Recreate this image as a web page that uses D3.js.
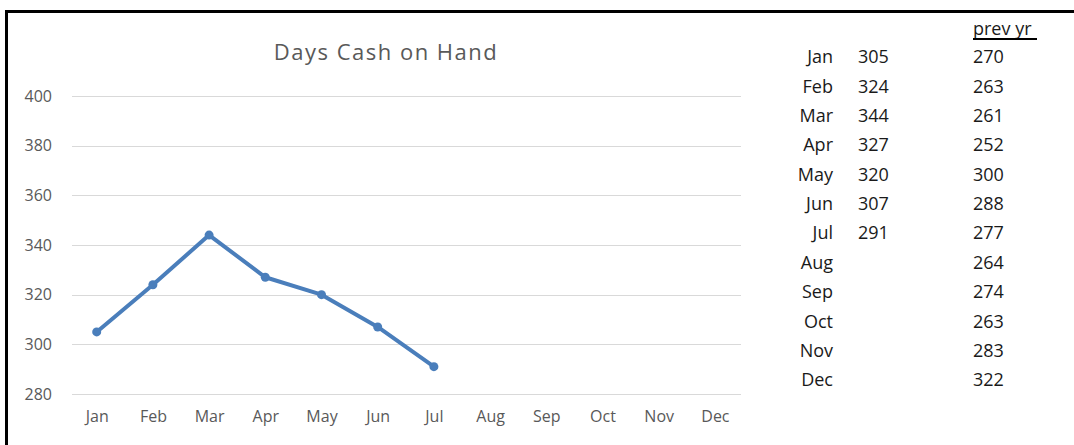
<!DOCTYPE html>
<html>
<head>
<meta charset="utf-8">
<script src="https://cdn.jsdelivr.net/npm/d3@7"></script>
<style>
  html, body { margin: 0; padding: 0; background: #fff; }
  svg { display: block; }
</style>
</head>
<body>
<svg id="chart" width="1074" height="445"></svg>
<script>
const months = ["Jan","Feb","Mar","Apr","May","Jun","Jul","Aug","Sep","Oct","Nov","Dec"];
const current = [305, 324, 344, 327, 320, 307, 291];
const prevYr = [270, 263, 261, 252, 300, 288, 277, 264, 274, 263, 283, 322];
const yTicks = [280, 300, 320, 340, 360, 380, 400];
const title = "Days Cash on Hand";
const prevHeader = "prev yr";

const svg = d3.select("#chart");
const W = 1074, H = 445;

// frame lines
svg.append("line").attr("x1", 5).attr("x2", W).attr("y1", 11.5).attr("y2", 11.5)
  .attr("stroke", "#000").attr("stroke-width", 3);
svg.append("line").attr("x1", 6.5).attr("x2", 6.5).attr("y1", 10).attr("y2", H)
  .attr("stroke", "#000").attr("stroke-width", 3);

const x = d3.scalePoint().domain(months).range([68.6, 743]).padding(0.5);
const y = d3.scaleLinear().domain([280, 400]).range([394, 96]);

// gridlines
svg.append("g").selectAll("line").data(yTicks).join("line")
  .attr("x1", 72).attr("x2", 741)
  .attr("y1", d => Math.round(y(d)) + 0.5).attr("y2", d => Math.round(y(d)) + 0.5)
  .attr("stroke", "#d9d9d9").attr("stroke-width", 1);

const af = "'Open Sans', sans-serif";
// y axis labels
const yAxis = d3.axisLeft(y).tickValues(yTicks).tickSize(0).tickPadding(0);
const gy = svg.append("g").attr("transform", "translate(52,0)").call(yAxis);
gy.select(".domain").remove();
gy.selectAll("text").attr("fill", "#595959")
  .style("font-family", af).style("font-size", "16px");

// x axis labels
const xAxis = d3.axisBottom(x).tickSize(0).tickPadding(0);
const gx = svg.append("g").attr("transform", "translate(0,411)").call(xAxis);
gx.select(".domain").remove();
gx.selectAll("text").attr("fill", "#595959")
  .style("font-family", af).style("font-size", "16px");

// title
svg.append("text").attr("x", 386).attr("y", 60).attr("text-anchor", "middle")
  .attr("fill", "#595959").style("font-family", af)
  .style("font-size", "22px").style("letter-spacing", "1.5px").text(title);

// line
const data = current.map((v, i) => ({m: months[i], v}));
svg.append("path").datum(data)
  .attr("fill", "none").attr("stroke", "#4a7ebb").attr("stroke-width", 4)
  .attr("stroke-linejoin", "round").attr("stroke-linecap", "round")
  .attr("d", d3.line().x(d => x(d.m)).y(d => y(d.v)));
svg.append("g").selectAll("circle").data(data).join("circle")
  .attr("cx", d => x(d.m)).attr("cy", d => y(d.v)).attr("r", 4.5)
  .attr("fill", "#4a7ebb");

// table
const rowY = d3.scalePoint().domain(months).range([57, 380]);
const tbl = svg.append("g").style("font-family", af).style("font-size", "18px").attr("fill", "#1a1a1a");
tbl.append("text").attr("x", 973).attr("y", 29).attr("dy", "0.35em").text(prevHeader);
tbl.append("line").attr("x1", 973).attr("x2", 1037).attr("y1", 39).attr("y2", 39)
  .attr("stroke", "#000").attr("stroke-width", 2);
tbl.selectAll("text.m").data(months).join("text").attr("class", "m")
  .attr("x", 833).attr("y", d => rowY(d)).attr("dy", "0.35em")
  .attr("text-anchor", "end").text(d => d);
tbl.selectAll("text.c").data(current).join("text").attr("class", "c")
  .attr("x", 858).attr("y", (d, i) => rowY(months[i])).attr("dy", "0.35em").text(d => d);
tbl.selectAll("text.p").data(prevYr).join("text").attr("class", "p")
  .attr("x", 973).attr("y", (d, i) => rowY(months[i])).attr("dy", "0.35em").text(d => d);
</script>
</body>
</html>
